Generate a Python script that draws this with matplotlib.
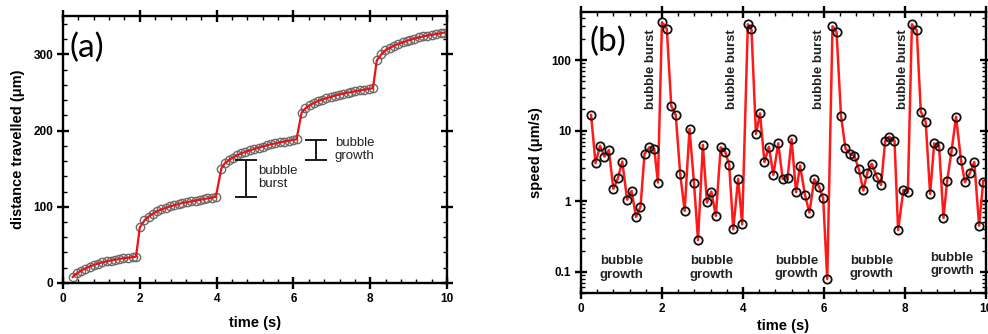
import matplotlib
matplotlib.use('Agg')
import matplotlib.pyplot as plt
import numpy as np
from matplotlib.ticker import MultipleLocator, LogLocator, NullFormatter

plt.rcParams['font.family'] = ['Liberation Sans', 'DejaVu Sans']

# time of each frame (s)
t = [0.25, 0.36, 0.47, 0.58, 0.69, 0.80, 0.91, 1.02, 1.14, 1.25, 1.36, 1.47, 1.57, 1.69, 1.81, 1.90,
     2.00, 2.12, 2.23, 2.34, 2.45, 2.56, 2.68, 2.79, 2.89, 3.01, 3.11, 3.22, 3.33, 3.45, 3.56, 3.66, 3.76, 3.88, 3.98,
     4.12, 4.21, 4.32, 4.42, 4.53, 4.64, 4.75, 4.87, 4.98, 5.10, 5.20, 5.31, 5.41, 5.53, 5.64, 5.76, 5.88, 5.98, 6.08,
     6.21, 6.31, 6.42, 6.53, 6.64, 6.75, 6.86, 6.97, 7.07, 7.18, 7.30, 7.41, 7.51, 7.61, 7.74, 7.83, 7.96, 8.07,
     8.17, 8.29, 8.39, 8.51, 8.62, 8.72, 8.84, 8.95, 9.04, 9.15, 9.26, 9.38, 9.48, 9.60, 9.71, 9.83, 9.93]

# distance travelled (um)
dist = [8, 12.5, 16, 19, 21.5, 23.5, 25.5, 27, 28.5, 29.5, 30.5, 31.5, 32.5, 33, 34, 34.5,
        73, 82, 87, 91, 94, 96.5, 98.5, 100.5, 102, 103.5, 105, 106, 107, 108, 109, 110, 111, 112, 113,
        150, 157, 161, 164.5, 167.5, 170, 172, 174, 176, 177.5, 179, 180.5, 182, 183, 184.5, 185.5, 186.5, 187.5, 188.5,
        223, 229, 233, 236, 238.5, 240.5, 242.5, 244, 245.5, 247, 248.5, 249.5, 250.5, 251.5, 252.5, 253.5, 254.5, 255.5,
        292, 300, 305, 308.5, 311, 313.5, 315.5, 317.5, 319, 320.5, 322, 323.5, 324.5, 325.5, 326.5, 327.5, 328.5]

# speed (um/s)
speed = [16.7, 3.46, 6.1, 4.3, 5.3, 1.5, 2.1, 3.65, 1.05, 1.4, 0.6, 0.83, 4.7, 5.8, 5.5, 1.84,
         345, 277, 22.4, 16.7, 2.45, 0.73, 10.6, 1.84, 0.28, 6.3, 0.96, 1.37, 0.62, 5.8, 5.05, 3.27, 0.40, 2.07, 0.47,
         323, 272, 9.0, 17.6, 3.6, 5.9, 2.36, 6.6, 2.07, 2.1, 7.6, 1.34, 3.2, 1.23, 0.69, 2.05, 1.6, 1.1, 0.079,
         302, 252, 16.2, 5.6, 4.7, 4.4, 2.85, 1.42, 2.55, 3.4, 2.24, 1.7, 7.2, 8.2, 7.2, 0.39, 1.45, 1.34,
         323, 265, 18.6, 13.4, 1.27, 6.6, 6.1, 0.58, 1.96, 5.2, 15.8, 3.9, 1.86, 2.5, 3.6, 0.45, 1.9]

# annotations
burst_x = [1.72, 3.72, 5.88, 7.96]
growth_x = [1.01, 3.23, 5.32, 7.18, 9.16]
growth_y = [0.113, 0.113, 0.116, 0.116, 0.126]

fig = plt.figure(figsize=(9.88, 3.34), dpi=100)
ax1 = fig.add_axes([0.0638, 0.1527, 0.3887, 0.799])
ax2 = fig.add_axes([0.588, 0.1228, 0.41, 0.841])


def style(ax):
    for s in ax.spines.values():
        s.set_linewidth(1.7)
    ax.tick_params(which='major', direction='inout', length=8, width=1.7,
                   top=True, right=True, labelsize=8.5, pad=3)
    ax.tick_params(which='minor', direction='in', length=3, width=1,
                   top=True, right=True)
    for lab in ax.get_xticklabels() + ax.get_yticklabels():
        lab.set_fontweight('bold')


# (a) distance
ax1.plot(t, dist, '-', color='#ee1111', lw=1.6, zorder=3)
ax1.plot(t, dist, 'o', mfc='none', mec='#6a6a6a', ms=6, mew=1.0, zorder=2)
ax1.set_xlim(0, 10)
ax1.set_ylim(0, 350)
ax1.set_xticks([0, 2, 4, 6, 8, 10])
ax1.set_yticks([0, 100, 200, 300])
ax1.xaxis.set_minor_locator(MultipleLocator(0.4))
ax1.yaxis.set_minor_locator(MultipleLocator(20))
style(ax1)
ax1.set_xlabel('time (s)', fontsize=10.5, fontweight='bold', labelpad=8)
ax1.set_ylabel('distance travelled (\u03bcm)', fontsize=10.5, fontweight='bold', labelpad=6)
ax1.text(0.018, 0.881, '(a)', transform=ax1.transAxes, fontsize=24,
         family='Lato', ha='left', va='center')

ax1.errorbar([4.76], [137.2], yerr=[24.5], fmt='none', ecolor='#1a1a1a',
             elinewidth=1.4, capsize=8, capthick=1.4)
ax1.text(5.08, 138, 'bubble\nburst', fontsize=9.5, color='#222222', ha='left', va='center',
         linespacing=1.15)
ax1.errorbar([6.60], [174], yerr=[13.2], fmt='none', ecolor='#1a1a1a',
             elinewidth=1.4, capsize=8, capthick=1.4)
ax1.text(7.08, 175, 'bubble\ngrowth', fontsize=9.5, color='#222222', ha='left', va='center',
         linespacing=1.15)

# (b) speed
ax2.plot(t, speed, '-', color='#ff1a1a', lw=1.8, zorder=2)
ax2.plot(t, speed, 'o', mfc='none', mec='#111111', ms=6, mew=1.3, zorder=3)
ax2.set_yscale('log')
ax2.set_xlim(0, 10)
ax2.set_ylim(0.05, 480)
ax2.set_xticks([0, 2, 4, 6, 8, 10])
ax2.set_yticks([0.1, 1, 10, 100])
ax2.set_yticklabels(['0.1', '1', '10', '100'])
ax2.xaxis.set_minor_locator(MultipleLocator(0.4))
ax2.yaxis.set_minor_locator(LogLocator(base=10, subs=np.arange(2, 10)))
ax2.yaxis.set_minor_formatter(NullFormatter())
style(ax2)
ax2.set_xlabel('time (s)', fontsize=10.5, fontweight='bold', labelpad=3)
ax2.set_ylabel('speed (\u03bcm/s)', fontsize=10.5, fontweight='bold', labelpad=6)
ax2.text(0.022, 0.895, '(b)', transform=ax2.transAxes, fontsize=24,
         family='Lato', ha='left', va='center')

for x in burst_x:
    ax2.text(x, 75, 'bubble burst', rotation=90, fontsize=9.5, fontweight='bold',
             color='#222222', ha='center', va='center')
for x, y in zip(growth_x, growth_y):
    ax2.text(x, y, 'bubble\ngrowth', fontsize=9.5, fontweight='bold', color='#222222',
             ha='center', va='center', linespacing=1.15)

fig.savefig('out.png', dpi=100)
